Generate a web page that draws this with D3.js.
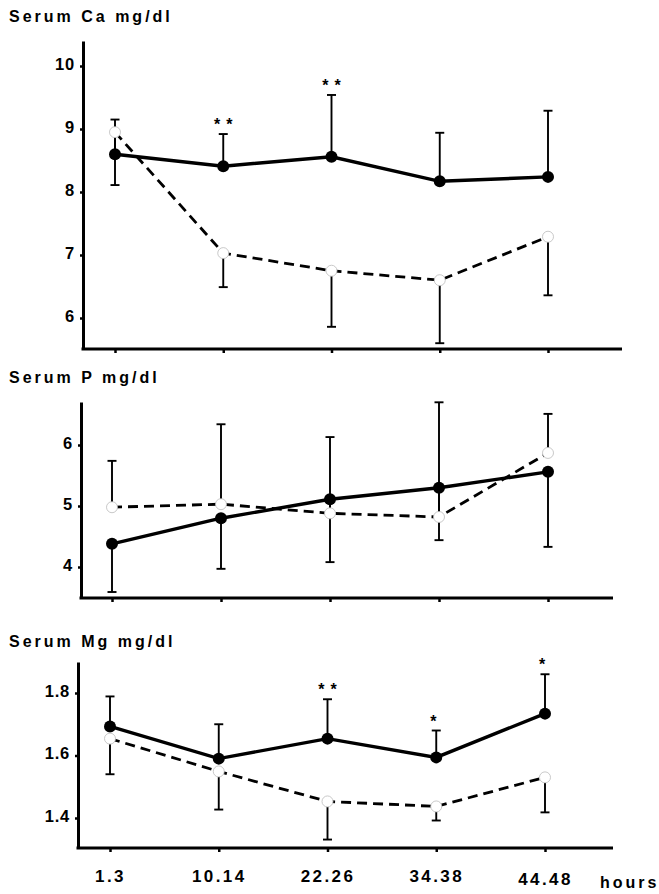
<!DOCTYPE html>
<html>
<head>
<meta charset="utf-8">
<script src="https://cdn.jsdelivr.net/npm/d3@7/dist/d3.min.js"></script>
<style>
  html, body { margin: 0; padding: 0; background: #fff; }
  svg { display: block; }
  text { font-family: "Liberation Sans", Arial, Helvetica, sans-serif; font-weight: bold; fill: #000; }
</style>
</head>
<body>
<svg id="chart" width="659" height="894"></svg>
<script>
// ---------------- DATA ----------------
const categories = ["1.3", "10.14", "22.26", "34.38", "44.48"];
const xUnit = "hours";

// Serum Ca (mg/dl)
const caTicks = [6, 7, 8, 9, 10];
const caFilled = [8.60, 8.41, 8.56, 8.17, 8.24];
const caFilledSd = [0.55, 0.51, 0.98, 0.77, 1.05];
const caOpen = [8.95, 7.03, 6.75, 6.60, 7.29];
const caOpenSd = [0.84, 0.54, 0.89, 1.00, 0.93];
const caStars = ["", "**", "**", "", ""];

// Serum P (mg/dl)
const pTicks = [4, 5, 6];
const pFilled = [4.38, 4.80, 5.11, 5.30, 5.56];
const pFilledSd = [0.79, 0.83, 1.03, 0.86, 1.23];
const pOpen = [4.98, 5.03, 4.88, 4.82, 5.87];
const pOpenSd = [0.76, 1.31, 1.25, 1.88, 0.64];
const pStars = ["", "", "", "", ""];

// Serum Mg (mg/dl)
const mgTicks = [1.4, 1.6, 1.8];
const mgFilled = [1.693, 1.590, 1.654, 1.594, 1.734];
const mgFilledSd = [0.096, 0.110, 0.126, 0.086, 0.126];
const mgOpen = [1.654, 1.549, 1.453, 1.437, 1.530];
const mgOpenSd = [0.114, 0.122, 0.122, 0.045, 0.112];
const mgStars = ["", "", "**", "*", "*"];

// ---------------- LAYOUT ----------------
const panels = [
  { title: "Serum Ca mg/dl", titleY: 22, ticks: caTicks, fmt: d3.format("d"),
    filled: caFilled, filledSd: caFilledSd, filledDir: -1,
    open: caOpen, openSd: caOpenSd, openDir: 1, stars: caStars,
    ax: 83, top: 41, bottom: 349, right: 622, anchors: [[6, 318], [10, 66]],
    x0: 115, x1: 548, labels: false },
  { title: "Serum P mg/dl", titleY: 383, ticks: pTicks, fmt: d3.format("d"),
    filled: pFilled, filledSd: pFilledSd, filledDir: 1,
    open: pOpen, openSd: pOpenSd, openDir: -1, stars: pStars,
    ax: 81, top: 402, bottom: 598, right: 613, anchors: [[4, 567], [6, 445]],
    x0: 112, x1: 548, labels: false },
  { title: "Serum Mg mg/dl", titleY: 647, ticks: mgTicks, fmt: d3.format(".1f"),
    filled: mgFilled, filledSd: mgFilledSd, filledDir: -1,
    open: mgOpen, openSd: mgOpenSd, openDir: 1, stars: mgStars,
    ax: 78, top: 662, bottom: 848, right: 613, anchors: [[1.4, 818], [1.8, 693]],
    x0: 110, x1: 545, labels: true }
];

const svg = d3.select("#chart");

panels.forEach(p => {
  const g = svg.append("g");

  // y scale anchored on two tick positions, extended to the axis extent
  const y0 = d3.scaleLinear()
    .domain([p.anchors[0][0], p.anchors[1][0]])
    .range([p.anchors[0][1], p.anchors[1][1]]);
  const y = d3.scaleLinear()
    .domain([y0.invert(p.bottom), y0.invert(p.top)])
    .range([p.bottom, p.top]);

  const x = d3.scalePoint().domain(categories).range([p.x0, p.x1]);

  // title
  g.append("text")
    .attr("x", 9).attr("y", p.titleY)
    .attr("font-size", 16).attr("letter-spacing", 3)
    .text(p.title);

  // y axis
  const yAxis = d3.axisLeft(y).tickValues(p.ticks).tickFormat(p.fmt)
    .tickSizeInner(3).tickSizeOuter(0).tickPadding(5);
  const ya = g.append("g").attr("transform", `translate(${p.ax},0)`).call(yAxis);
  ya.select(".domain").attr("stroke", "#000").attr("stroke-width", 3);
  ya.selectAll(".tick line").attr("stroke", "#000").attr("stroke-width", 2.5);
  ya.selectAll(".tick text")
    .attr("font-size", 16.5).attr("letter-spacing", 0.8)
    .attr("dy", "0.2em")
    .style("font-family", "'Liberation Sans', Arial, sans-serif")
    .style("font-weight", "bold");

  // x axis
  g.append("line")
    .attr("x1", p.ax - 1.5).attr("x2", p.right)
    .attr("y1", p.bottom).attr("y2", p.bottom)
    .attr("stroke", "#000").attr("stroke-width", 3);
  const xAxis = d3.axisBottom(x).tickSizeInner(4).tickSizeOuter(0)
    .tickPadding(16).tickFormat(p.labels ? (d => d) : (() => ""));
  const xa = g.append("g").attr("transform", `translate(0,${p.bottom})`).call(xAxis);
  xa.select(".domain").remove();
  xa.selectAll(".tick line").attr("stroke", "#000").attr("stroke-width", 2.5);
  xa.selectAll(".tick text")
    .attr("font-size", 17).attr("letter-spacing", 2.4)
    .attr("dy", (d, i) => i === 4 ? "1.0em" : "0.8em")
    .style("font-family", "'Liberation Sans', Arial, sans-serif")
    .style("font-weight", "bold");
  if (p.labels) {
    g.append("text")
      .attr("x", 600).attr("y", p.bottom + 40)
      .attr("font-size", 16).attr("letter-spacing", 3)
      .text(xUnit);
  }

  const cap = 4.5;
  // error bars
  function errorBars(vals, sds, dir, startGap) {
    const eg = g.append("g").attr("stroke", "#000").attr("stroke-width", 1.9);
    vals.forEach((v, i) => {
      const cx = x(categories[i]);
      const yEnd = y(v + (dir < 0 ? sds[i] : -sds[i]));
      const yStart = y(v) + (dir < 0 ? -startGap : startGap);
      eg.append("line").attr("x1", cx).attr("x2", cx)
        .attr("y1", yStart).attr("y2", yEnd);
      eg.append("line").attr("x1", cx - cap).attr("x2", cx + cap)
        .attr("y1", yEnd).attr("y2", yEnd);
    });
  }
  errorBars(p.filled, p.filledSd, p.filledDir, 0);
  errorBars(p.open, p.openSd, p.openDir, 5);

  const line = d3.line().x((d, i) => x(categories[i])).y(d => y(d));

  // open (dashed) series
  g.append("path").datum(p.open)
    .attr("d", line)
    .attr("fill", "none").attr("stroke", "#000")
    .attr("stroke-width", 2.8).attr("stroke-dasharray", "10,6");

  // filled (solid) series
  g.append("path").datum(p.filled)
    .attr("d", line)
    .attr("fill", "none").attr("stroke", "#000")
    .attr("stroke-width", 3.4);

  g.append("g").selectAll("circle").data(p.filled).join("circle")
    .attr("cx", (d, i) => x(categories[i])).attr("cy", d => y(d))
    .attr("r", 6).attr("fill", "#000");

  g.append("g").selectAll("circle").data(p.open).join("circle")
    .attr("cx", (d, i) => x(categories[i])).attr("cy", d => y(d))
    .attr("r", 5.5).attr("fill", "#fff")
    .attr("stroke", "#bbb").attr("stroke-width", 0.8);

  // significance stars above filled error bars
  g.append("g").selectAll("text").data(p.stars).join("text")
    .attr("x", (d, i) => x(categories[i]))
    .attr("y", (d, i) => y(p.filled[i] + p.filledSd[i]) - 4)
    .attr("text-anchor", "middle")
    .attr("font-size", 16).attr("letter-spacing", 6)
    .attr("dx", (d) => d.length > 1 ? 3 : 0)
    .text(d => d);
});
</script>
</body>
</html>
